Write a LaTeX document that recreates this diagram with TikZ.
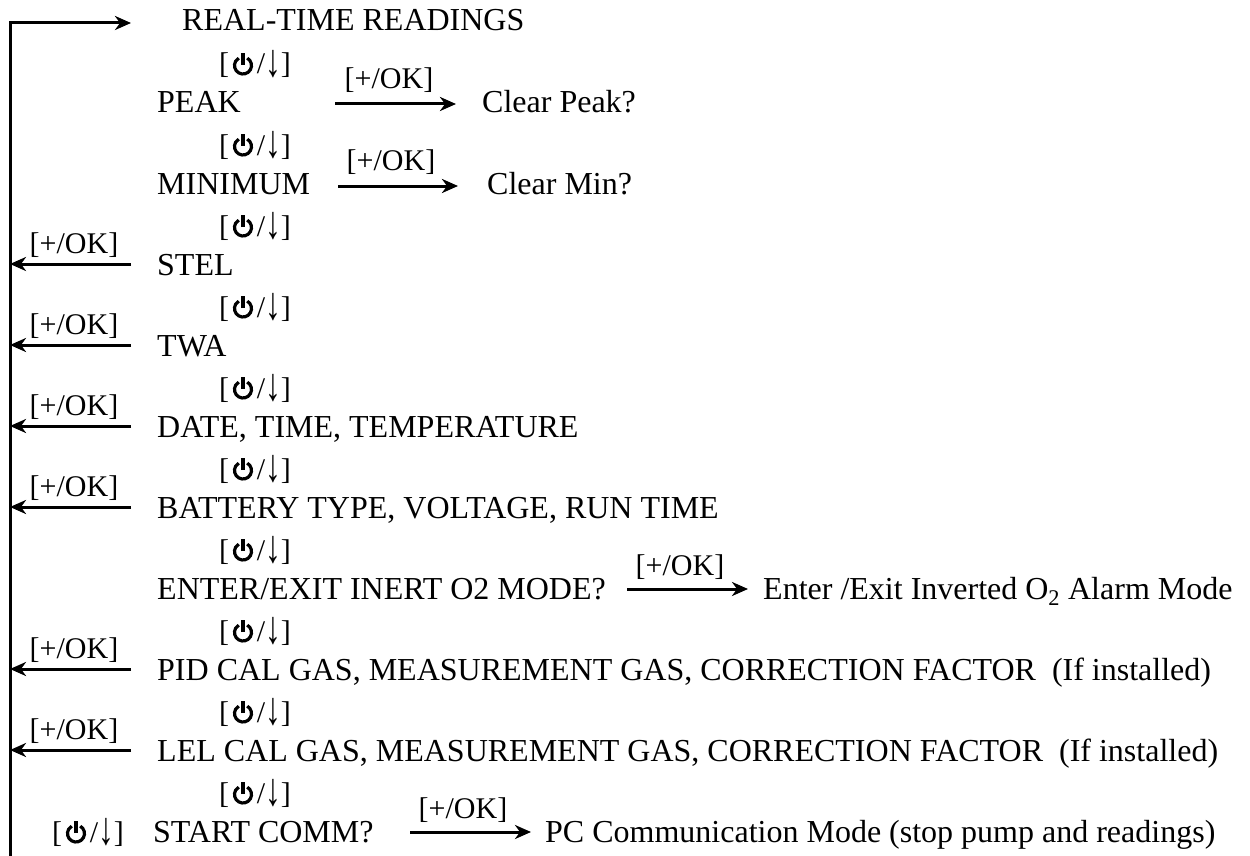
\documentclass[tikz,border=0pt]{standalone}
\usepackage{fontspec}
\setmainfont{Liberation Serif}
\usetikzlibrary{arrows.meta}
\newcommand{\pwrsym}{\tikz[baseline=0pt,x=1pt,y=1pt,line width=3.2pt,line cap=butt]{\draw (4.25,15.86) arc[start angle=60,end angle=-240,radius=8.5];\draw (0,9)--(0,21);}}
\newcommand{\dnarr}{\raisebox{-2.5pt}{\scalebox{1.05}[1.55]{↓}}}
\newcommand{\pd}{[\kern2.5pt\pwrsym\kern2.5pt/\dnarr]}
\tikzset{
  txt/.style={anchor=base west, inner sep=0pt, font=\fontsize{32}{38}\selectfont},
  pwl/.style={anchor=base west, inner sep=0pt, font=\fontsize{30}{36}\selectfont},
  lbl/.style={anchor=base, inner sep=0pt, font=\fontsize{30}{36}\selectfont},
  conn/.style={line width=3pt, -{Stealth[length=16pt,width=14pt,inset=5pt]}},
}
\begin{document}
\begin{tikzpicture}[x=1pt,y=-1pt]
\useasboundingbox (0,0) rectangle (1250,856);
% main texts
\node[txt] (rt)   at (182,31)  {REAL-TIME READINGS};
\node[txt] (peak) at (157,113) {PEAK};
\node[txt] (min)  at (157,194) {MINIMUM};
\node[txt] (stel) at (157,275) {STEL};
\node[txt] (twa)  at (157,356) {TWA};
\node[txt] (date) at (157,437) {DATE, TIME, TEMPERATURE};
\node[txt] (bat)  at (157,518) {BATTERY TYPE, VOLTAGE, RUN TIME};
\node[txt] (ent)  at (157,599) {ENTER/EXIT INERT O2 MODE?};
\node[txt] (pid)  at (157,680) {PID CAL GAS, MEASUREMENT GAS, CORRECTION FACTOR\ \ (If installed)};
\node[txt] (lel)  at (157,761) {LEL CAL GAS, MEASUREMENT GAS, CORRECTION FACTOR\ \ (If installed)};
\node[txt] (com)  at (153,842) {START COMM?};
% power/down labels
\node[pwl] (p1)  at (219,74)  {\pd};
\node[pwl] (p2)  at (219,155) {\pd};
\node[pwl] (p3)  at (219,236) {\pd};
\node[pwl] (p4)  at (219,317) {\pd};
\node[pwl] (p5)  at (219,398) {\pd};
\node[pwl] (p6)  at (219,479) {\pd};
\node[pwl] (p7)  at (219,560) {\pd};
\node[pwl] (p8)  at (219,641) {\pd};
\node[pwl] (p9)  at (219,722) {\pd};
\node[pwl] (p10) at (219,803) {\pd};
\node[pwl] (p11) at (52,842)  {\pd};
% right-hand results
\node[txt] (cpk)  at (482,113) {Clear Peak?};
\node[txt] (cmin) at (487,194) {Clear Min?};
\node[txt] (inv)  at (763,599) {Enter /Exit Inverted O\textsubscript{2} Alarm Mode};
\node[txt] (pc)   at (545,842) {PC Communication Mode (stop pump and readings)};
% loop line
\coordinate (bot) at (10,858);
\coordinate (toptip) at (131,23);
\draw[conn, line join=miter] (bot) |- (toptip);
% left arrows
\foreach \n/\yy in {stel/264, twa/345, date/426, bat/507, pid/669, lel/750}{
  \coordinate (\n s) at (131,\yy);
  \coordinate (\n e) at (10,\yy);
  \draw[conn] (\n s) -- (\n e);
  \node[lbl] (\n l) at (74,\yy-11) {[+/OK]};
}
% right arrows
\coordinate (pks) at (335,104); \coordinate (pke) at (456,104);
\draw[conn] (pks) -- (pke);
\node[lbl] (pkl) at (389,89) {[+/OK]};
\coordinate (mns) at (338,186); \coordinate (mne) at (458,186);
\draw[conn] (mns) -- (mne);
\node[lbl] (mnl) at (391,171) {[+/OK]};
\coordinate (ens) at (627,589); \coordinate (ene) at (748,589);
\draw[conn] (ens) -- (ene);
\node[lbl] (enl) at (680,575) {[+/OK]};
\coordinate (cms) at (410,832); \coordinate (cme) at (531,832);
\draw[conn] (cms) -- (cme);
\node[lbl] (cml) at (463,818) {[+/OK]};
\end{tikzpicture}
\end{document}
